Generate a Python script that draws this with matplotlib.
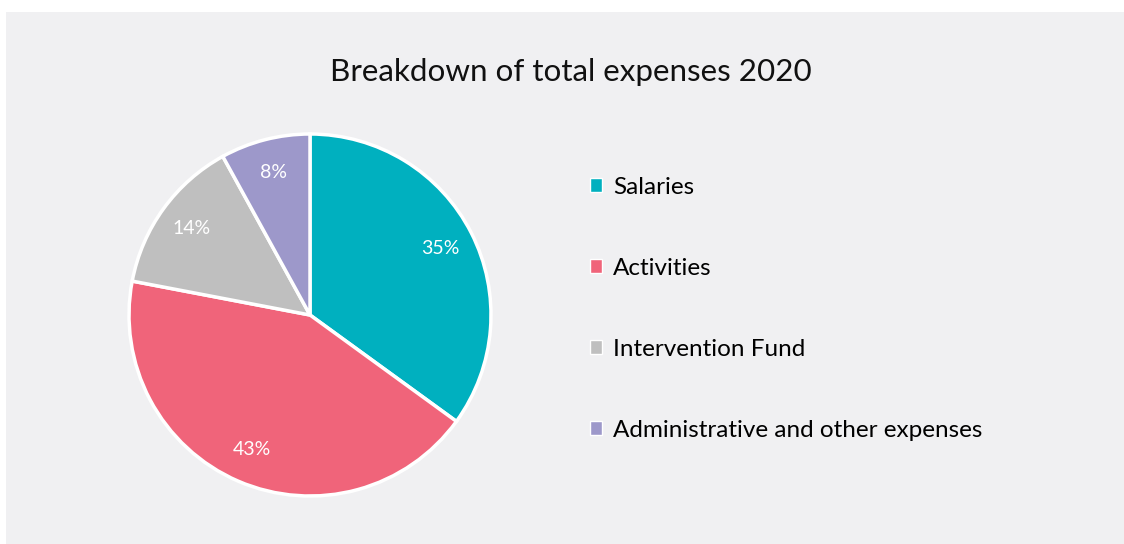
import matplotlib.pyplot as plt
from matplotlib.patches import Rectangle, Patch

plt.rcParams["font.family"] = ["Lato", "DejaVu Sans"]

# =====================================================
# DATA
# =====================================================
title = "Breakdown of total expenses 2020"
categories = ["Salaries", "Activities", "Intervention Fund", "Administrative and other expenses"]
shares = [35, 43, 14, 8]
colors = ["#00b0bf", "#f0647a", "#bfbfbf", "#9d98ca"]

W, H = 1124, 544
fig = plt.figure(figsize=(W / 100, H / 100), dpi=100, facecolor="white")

# light grey panel behind everything
fig.patches.append(Rectangle((6 / W, 0), 1 - 6 / W, 1 - 12 / H,
                             transform=fig.transFigure, facecolor="#f0f0f2",
                             edgecolor="none", zorder=-5))

fig.text(571 / W, 1 - 72 / H, title, ha="center", va="center", fontsize=22.6, color="#111111")

# =====================================================
# PIE
# =====================================================
cx, cy, r = 310, 544 - 315, 181
ax = fig.add_axes([(cx - r) / W, (cy - r) / H, 2 * r / W, 2 * r / H])
ax.set_facecolor("none")
wedges, _, autotexts = ax.pie(
    shares, colors=colors, startangle=90, counterclock=False,
    autopct="%d%%", pctdistance=0.81,
    wedgeprops=dict(edgecolor="white", linewidth=2.5),
    textprops=dict(color="white", fontsize=14),
)
ax.set_xlim(-1.0, 1.0)
ax.set_ylim(-1.0, 1.0)
ax.axis("off")

# =====================================================
# LEGEND
# =====================================================
handles = [Patch(facecolor=c, edgecolor="white", linewidth=1) for c in colors]
fig.legend(handles, categories, loc="upper left",
           bbox_to_anchor=(568 / W, 1 - 155 / H),
           frameon=False, fontsize=17.5, handlelength=0.5, handleheight=0.5,
           handletextpad=0.45, labelspacing=2.47)

fig.savefig("out.png", dpi=100, facecolor="white")
